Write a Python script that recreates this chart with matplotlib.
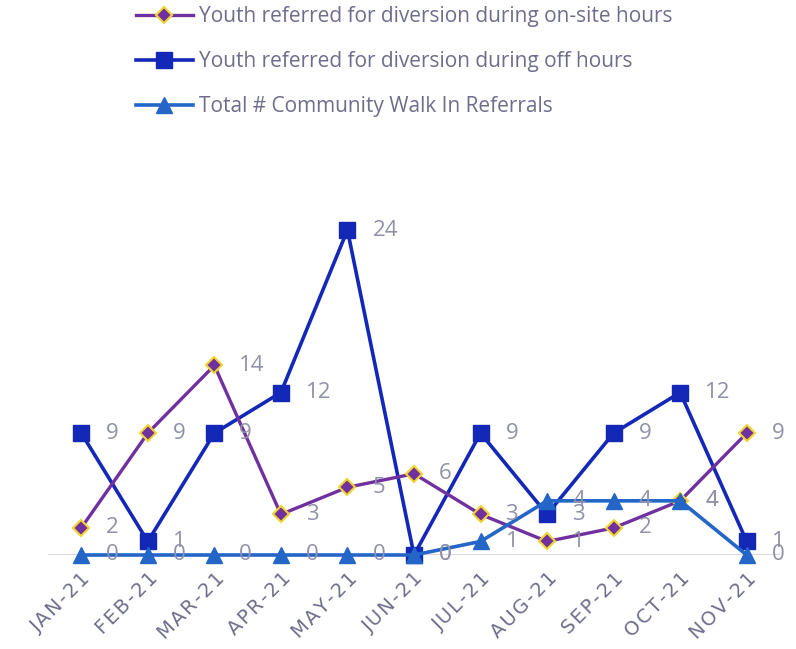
import matplotlib.pyplot as plt

months = ["JAN-21", "FEB-21", "MAR-21", "APR-21", "MAY-21", "JUN-21",
          "JUL-21", "AUG-21", "SEP-21", "OCT-21", "NOV-21"]
on_site = [2, 9, 14, 3, 5, 6, 3, 1, 2, 4, 9]
off_hours = [9, 1, 9, 12, 24, 0, 9, 3, 9, 12, 1]
walk_in = [0, 0, 0, 0, 0, 0, 1, 4, 4, 4, 0]

plt.rcParams['font.family'] = ['Open Sans', 'DejaVu Sans']

W, H = 796, 649
fig = plt.figure(figsize=(W / 100, H / 100), dpi=100)
ax = fig.add_axes([48 / W, 94 / H, 732 / W, 325 / H])

x = list(range(len(months)))
purple = '#7030A0'
dark = '#1428B8'
light = '#2366C8'
label_color = '#9090A8'

l1, = ax.plot(x, on_site, color=purple, lw=2.4, marker='D', ms=8.5,
              mfc=purple, mec='#F2D42C', mew=1.5, clip_on=False, zorder=4)
l2, = ax.plot(x, off_hours, color=dark, lw=2.6, marker='s', ms=11,
              mfc=dark, mec=dark, clip_on=False, zorder=3)
l3, = ax.plot(x, walk_in, color=light, lw=2.6, marker='^', ms=11,
              mfc=light, mec=light, clip_on=False, zorder=5)

for series in (on_site, off_hours, walk_in):
    for xi, v in zip(x, series):
        ax.annotate(str(v), (xi, v), xytext=(18, 0), textcoords='offset points',
                    va='center', ha='left', fontsize=16, color=label_color,
                    zorder=6)

ax.set_xlim(-0.5, len(months) - 0.5)
ax.set_ylim(0, 24)
ax.axhline(0, color='#D9D9DF', lw=1.5, zorder=1)
for s in ax.spines.values():
    s.set_visible(False)
ax.set_yticks([])
ax.set_xticks(x)
# letter-spaced month labels
spaced = ["\u200a".join(m) for m in months]
ax.set_xticklabels(spaced, rotation=45, ha='right', rotation_mode='anchor',
                   fontsize=14, color='#6E6E8C', family=['DejaVu Sans'])
ax.tick_params(axis='x', length=0, pad=10)

fig.legend([l1, l2, l3],
           ["Youth referred for diversion during on-site hours",
            "Youth referred for diversion during off hours",
            "Total # Community Walk In Referrals"],
           loc='upper left', bbox_to_anchor=(128 / W, 1.003), frameon=False,
           fontsize=15, labelcolor='#6E6E8C', handlelength=2.7,
           handletextpad=0.3, labelspacing=1.15, borderaxespad=0.0)

fig.savefig('out.png', dpi=100)
